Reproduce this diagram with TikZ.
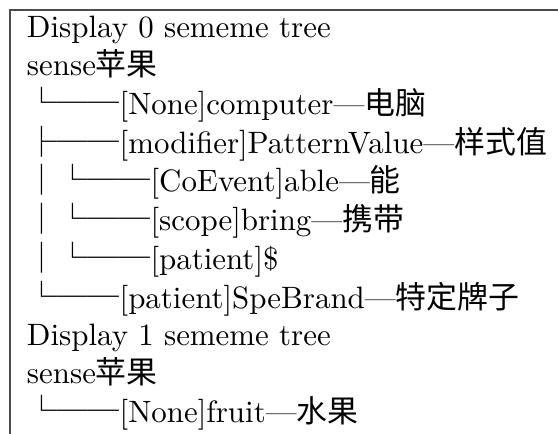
\documentclass[tikz,border=0pt]{standalone}
\usepackage{fontspec}
\newfontfamily\cjk{Noto Sans CJK SC}
\usepackage{tikz}
\usetikzlibrary{positioning}

\newcommand{\zh}[1]{{\cjk #1}}

\begin{document}
\begin{tikzpicture}[x=0.3236pt, y=-0.3236pt,
  treeline/.style={anchor=base west, inner sep=0pt, outer sep=0pt, font=\fontsize{10}{12}\selectfont},
  frameline/.style={black!70, line width=0.6pt}]

\useasboundingbox (0,0) rectangle (558,434);

% --- Frame (top and left edges only) ---
\coordinate (FTR) at (558,10);
\coordinate (FTL) at (10,10);
\coordinate (FBL) at (10,434);
\draw[frameline] (FTR) -- (FTL) -- (FBL);

% --- Sememe tree 0 ---
\node[treeline] (L1) at (27,37.5) {Display 0 sememe tree};
\node[treeline] (L2) at (27,75.5) {sense\zh{苹果}};
\node[treeline] (L3) at (27,114.3) {\zh{└──}[None]computer—\zh{电脑}};
\node[treeline] (L4) at (27,153.3) {\zh{├──}[modifier]PatternValue—\zh{样式值}};
\node[treeline] (L5) at (27,191.7) {\zh{│└──}[CoEvent]able—\zh{能}};
\node[treeline] (L6) at (27,231) {\zh{│└──}[scope]bring—\zh{携带}};
\node[treeline] (L7) at (27,269.3) {\zh{│└──}[patient]\$};
\node[treeline] (L8) at (27,308.3) {\zh{└──}[patient]SpeBrand—\zh{特定牌子}};

% --- Sememe tree 1 ---
\node[treeline] (L9) at (27,346) {Display 1 sememe tree};
\node[treeline] (L10) at (27,384) {sense\zh{苹果}};
\node[treeline] (L11) at (27,423) {\zh{└──}[None]fruit—\zh{水果}};

\end{tikzpicture}
\end{document}
